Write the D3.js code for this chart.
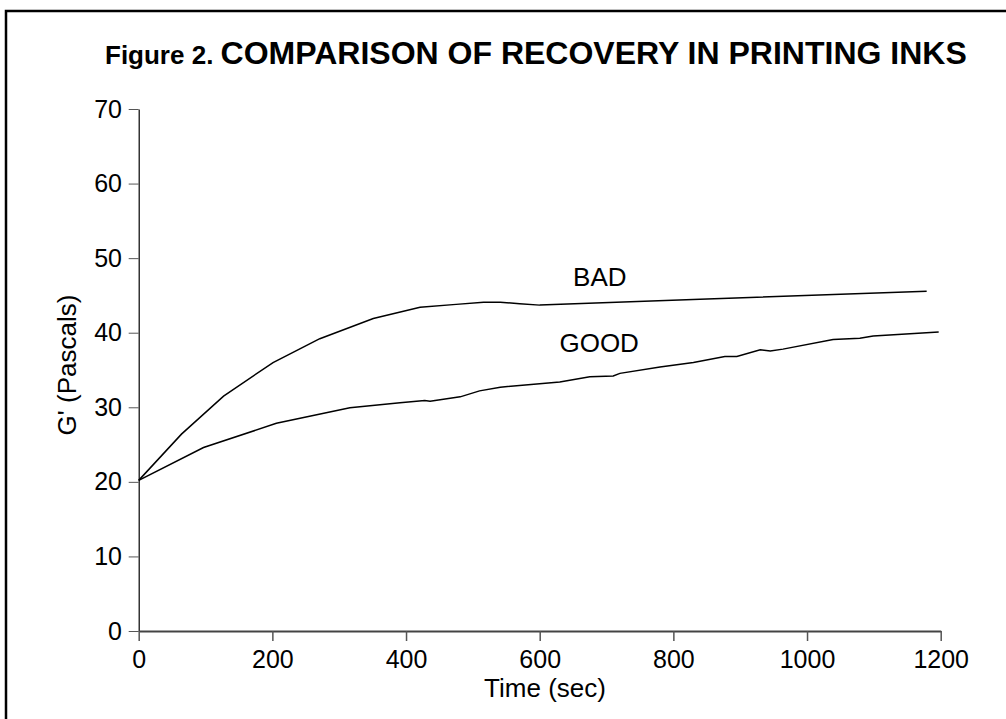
<!DOCTYPE html>
<html lang="en">
<head>
    <meta charset="UTF-8">
    <title>Comparison of Recovery in Printing Inks</title>
    <script src="https://d3js.org/d3.v7.min.js"></script>
    <style>
        body {
            margin: 0;
            background: #fff;
            font-family: "Liberation Sans", Arial, sans-serif;
        }
        svg {
            display: block;
        }
        .line {
            fill: none;
            stroke: #000;
            stroke-width: 1.5;
        }
    </style>
</head>
<body>
    <svg width="1006" height="719"></svg>

    <script>
        // values
        const badTime = [0, 64, 127, 201, 271, 351, 421, 475, 516, 541, 570, 600, 840, 1179];
        const badG = [20.2, 26.4, 31.5, 36.0, 39.2, 41.9, 43.4, 43.8, 44.1, 44.1, 43.9, 43.7, 44.5, 45.55];

        const goodTime = [0, 97, 206, 316, 391, 428, 436, 481, 510, 541, 630, 675, 710, 720, 780, 830, 877, 895, 930, 945, 964, 1039, 1079, 1099, 1197];
        const goodG = [20.2, 24.6, 27.85, 29.95, 30.6, 30.9, 30.8, 31.4, 32.2, 32.7, 33.4, 34.1, 34.2, 34.55, 35.4, 36.0, 36.8, 36.8, 37.7, 37.55, 37.8, 39.1, 39.25, 39.55, 40.1];

        const xTicks = [0, 200, 400, 600, 800, 1000, 1200];
        const yTicks = [0, 10, 20, 30, 40, 50, 60, 70];

        const svg = d3.select("svg");
        const margin = {left: 138.7, top: 109};
        const w = 802, h = 522;

        // frame around the whole figure
        svg.append("rect")
            .attr("x", 6).attr("y", 11)
            .attr("width", 1100).attr("height", 800)
            .attr("fill", "none")
            .attr("stroke", "#000")
            .attr("stroke-width", 2.5);

        const title = svg.append("text")
            .attr("x", 105).attr("y", 64)
            .attr("font-weight", "bold")
            .attr("fill", "#000");
        title.append("tspan").attr("font-size", 26).text("Figure 2. ");
        title.append("tspan").attr("font-size", 32).text("COMPARISON OF RECOVERY IN PRINTING INKS");

        const g = svg.append("g").attr("transform", `translate(${margin.left},${margin.top})`);

        const x = d3.scaleLinear().domain([0, 1200]).range([0, w]);
        const y = d3.scaleLinear().domain([0, 70]).range([h, 0]);

        const yAxis = g.append("g")
            .call(d3.axisLeft(y).tickValues(yTicks).tickSize(10).tickSizeOuter(0).tickPadding(6.7));
        yAxis.select(".domain").attr("stroke", "#000").attr("stroke-width", 1.2);
        yAxis.selectAll(".tick line").attr("stroke", "#555");
        yAxis.selectAll("text").attr("font-size", 25).attr("fill", "#000")
            .attr("font-family", "'Liberation Sans', Arial, sans-serif");

        const xAxis = g.append("g")
            .attr("transform", `translate(0,${h})`)
            .call(d3.axisBottom(x).tickValues(xTicks).tickFormat(d3.format("d"))
                .tickSize(10).tickSizeOuter(0).tickPadding(9));
        xAxis.select(".domain").attr("stroke", "#444").attr("stroke-width", 2);
        xAxis.selectAll(".tick line").attr("stroke", "#555").attr("stroke-width", 1.5);
        xAxis.selectAll("text").attr("font-size", 25).attr("fill", "#000")
            .attr("font-family", "'Liberation Sans', Arial, sans-serif");

        const line = d3.line()
            .x(d => x(d[0]))
            .y(d => y(d[1]));

        g.append("path")
            .datum(badTime.map((t, i) => [t, badG[i]]))
            .attr("class", "line")
            .attr("d", line);

        g.append("path")
            .datum(goodTime.map((t, i) => [t, goodG[i]]))
            .attr("class", "line")
            .attr("d", line);

        // curve labels
        g.append("text")
            .attr("x", x(690)).attr("y", y(46.3))
            .attr("text-anchor", "middle")
            .attr("font-size", 26)
            .text("BAD");
        g.append("text")
            .attr("x", x(689)).attr("y", y(37.4))
            .attr("text-anchor", "middle")
            .attr("font-size", 26)
            .text("GOOD");

        // axis titles
        svg.append("text")
            .attr("x", 545).attr("y", 697)
            .attr("text-anchor", "middle")
            .attr("font-size", 26)
            .text("Time (sec)");

        svg.append("text")
            .attr("transform", "translate(76,365) rotate(-90)")
            .attr("text-anchor", "middle")
            .attr("font-size", 26)
            .text("G' (Pascals)");
    </script>
</body>
</html>
